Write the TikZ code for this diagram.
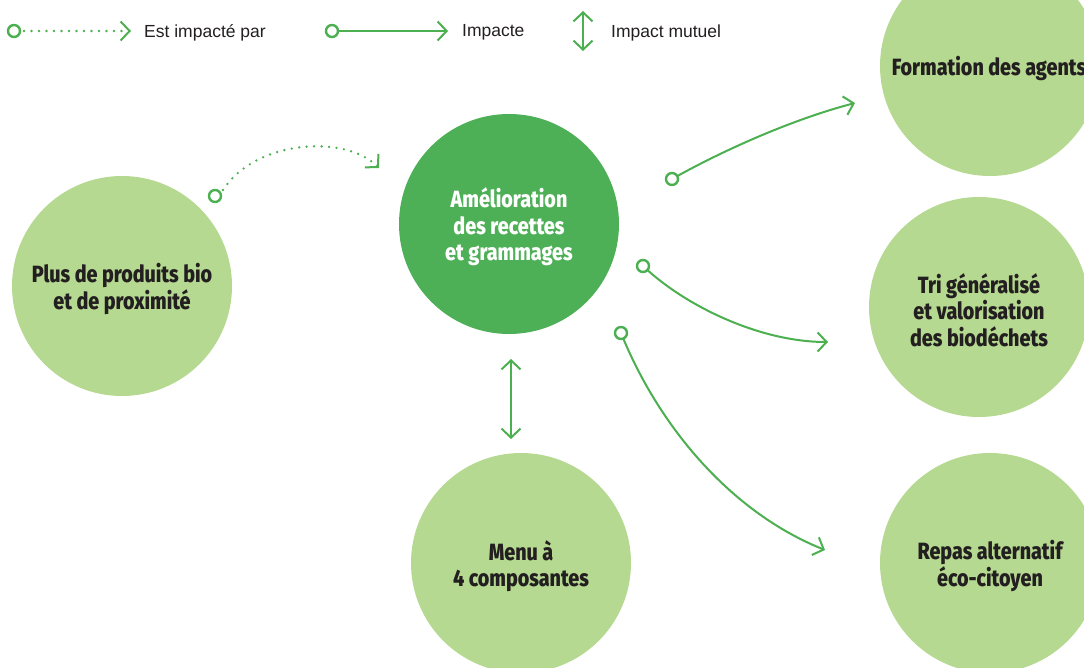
\documentclass[tikz,border=0pt]{standalone}
\usepackage{fontspec}
\usetikzlibrary{arrows.meta}
\newfontfamily\nodefont[FakeStretch=0.84]{Fira Sans ExtraBold}
\newfontfamily\legfont{Liberation Sans}
\definecolor{lightg}{HTML}{B5D990}
\definecolor{darkg}{HTML}{4DAF56}
\definecolor{lineg}{HTML}{4CAF50}
\definecolor{txt}{HTML}{231F20}
\tikzset{
  btext/.style={font=\nodefont\fontsize{23.5}{26.5}\selectfont, align=center, text=txt, yshift=-3pt},
  bubble/.style={circle, minimum size=220pt, inner sep=0pt, fill=lightg},
  darkbubble/.style={bubble, fill=darkg},
  wtext/.style={btext, text=white},
  conn/.style={draw=lineg, line width=2pt, -{Straight Barb[length=9pt,width=19pt,line width=2pt]}},
  dotconn/.style={conn, dash pattern=on 0pt off 7.5pt, line cap=round, line width=2.6pt},
  both/.style={draw=lineg, line width=2pt, {Straight Barb[length=9pt,width=19pt,line width=2pt]}-{Straight Barb[length=9pt,width=19pt,line width=2pt]}},
  startdot/.style={circle, draw=lineg, line width=2.4pt, fill=white, minimum size=12pt, inner sep=0pt},
  legtext/.style={anchor=west, text=txt, font=\legfont\fontsize{17.5}{20}\selectfont, inner sep=0pt}
}
\begin{document}
\begin{tikzpicture}[x=1pt,y=-1pt]
\useasboundingbox (0,0) rectangle (1084,668);
\clip (0,0) rectangle (1084,668);
% circles
\node[bubble, label={[btext]center:Plus de produits bio\\et de proximit\'e}] (bio) at (122,286) {};
\node[darkbubble, label={[wtext]center:Am\'elioration\\des recettes\\et grammages}] (amel) at (509,224) {};
\node[bubble, label={[btext, xshift=-1pt, yshift=1pt]center:Formation des agents}] (form) at (990,66) {};
\node[bubble, label={[btext]center:Tri g\'en\'eralis\'e\\et valorisation\\des biod\'echets}] (tri) at (979,307) {};
\node[bubble, label={[btext]center:Menu \`a\\4 composantes}] (menu) at (521,563) {};
\node[bubble, label={[btext]center:Repas alternatif\\\'eco-citoyen}] (repas) at (990,563) {};
% legend
\coordinate (l1a) at (14,31); \coordinate (l1b) at (131,31);
\draw[dotconn] ([xshift=10pt]l1a) -- (l1b);
\node[startdot] (l1c) at (l1a) {};
\node[legtext] (l1t) at (144,33) {Est impact\'e par};
\coordinate (l2a) at (332,31); \coordinate (l2b) at (448,31);
\draw[conn] (l2a) -- (l2b);
\node[startdot] (l2c) at (l2a) {};
\node[legtext] (l2t) at (462,32) {Impacte};
\coordinate (l3a) at (583,11); \coordinate (l3b) at (583,51);
\draw[both] (l3a) -- (l3b);
\node[legtext] (l3t) at (611,33) {Impact mutuel};
% connectors
\coordinate (d1) at (215,196); \coordinate (d2) at (379,168);
\draw[dotconn] ([shift={(8,-6)}]d1) .. controls (255,140) and (345,134) .. (d2);
\node[startdot] (d1c) at (d1) {};
\coordinate (a1) at (672,179); \coordinate (a1e) at (855,103);
\draw[conn] (a1) .. controls (720,152) and (790,120) .. (a1e);
\node[startdot] (a1c) at (a1) {};
\coordinate (a2) at (643,266); \coordinate (a2e) at (828,342);
\draw[conn] (a2) .. controls (685,306) and (760,342) .. (a2e);
\node[startdot] (a2c) at (a2) {};
\coordinate (a3) at (621,333); \coordinate (a3e) at (825,550);
\draw[conn] (a3) .. controls (658,425) and (730,512) .. (a3e);
\node[startdot] (a3c) at (a3) {};
\coordinate (m1) at (511,359); \coordinate (m2) at (511,439);
\draw[both] (m1) -- (m2);
\end{tikzpicture}
\end{document}
